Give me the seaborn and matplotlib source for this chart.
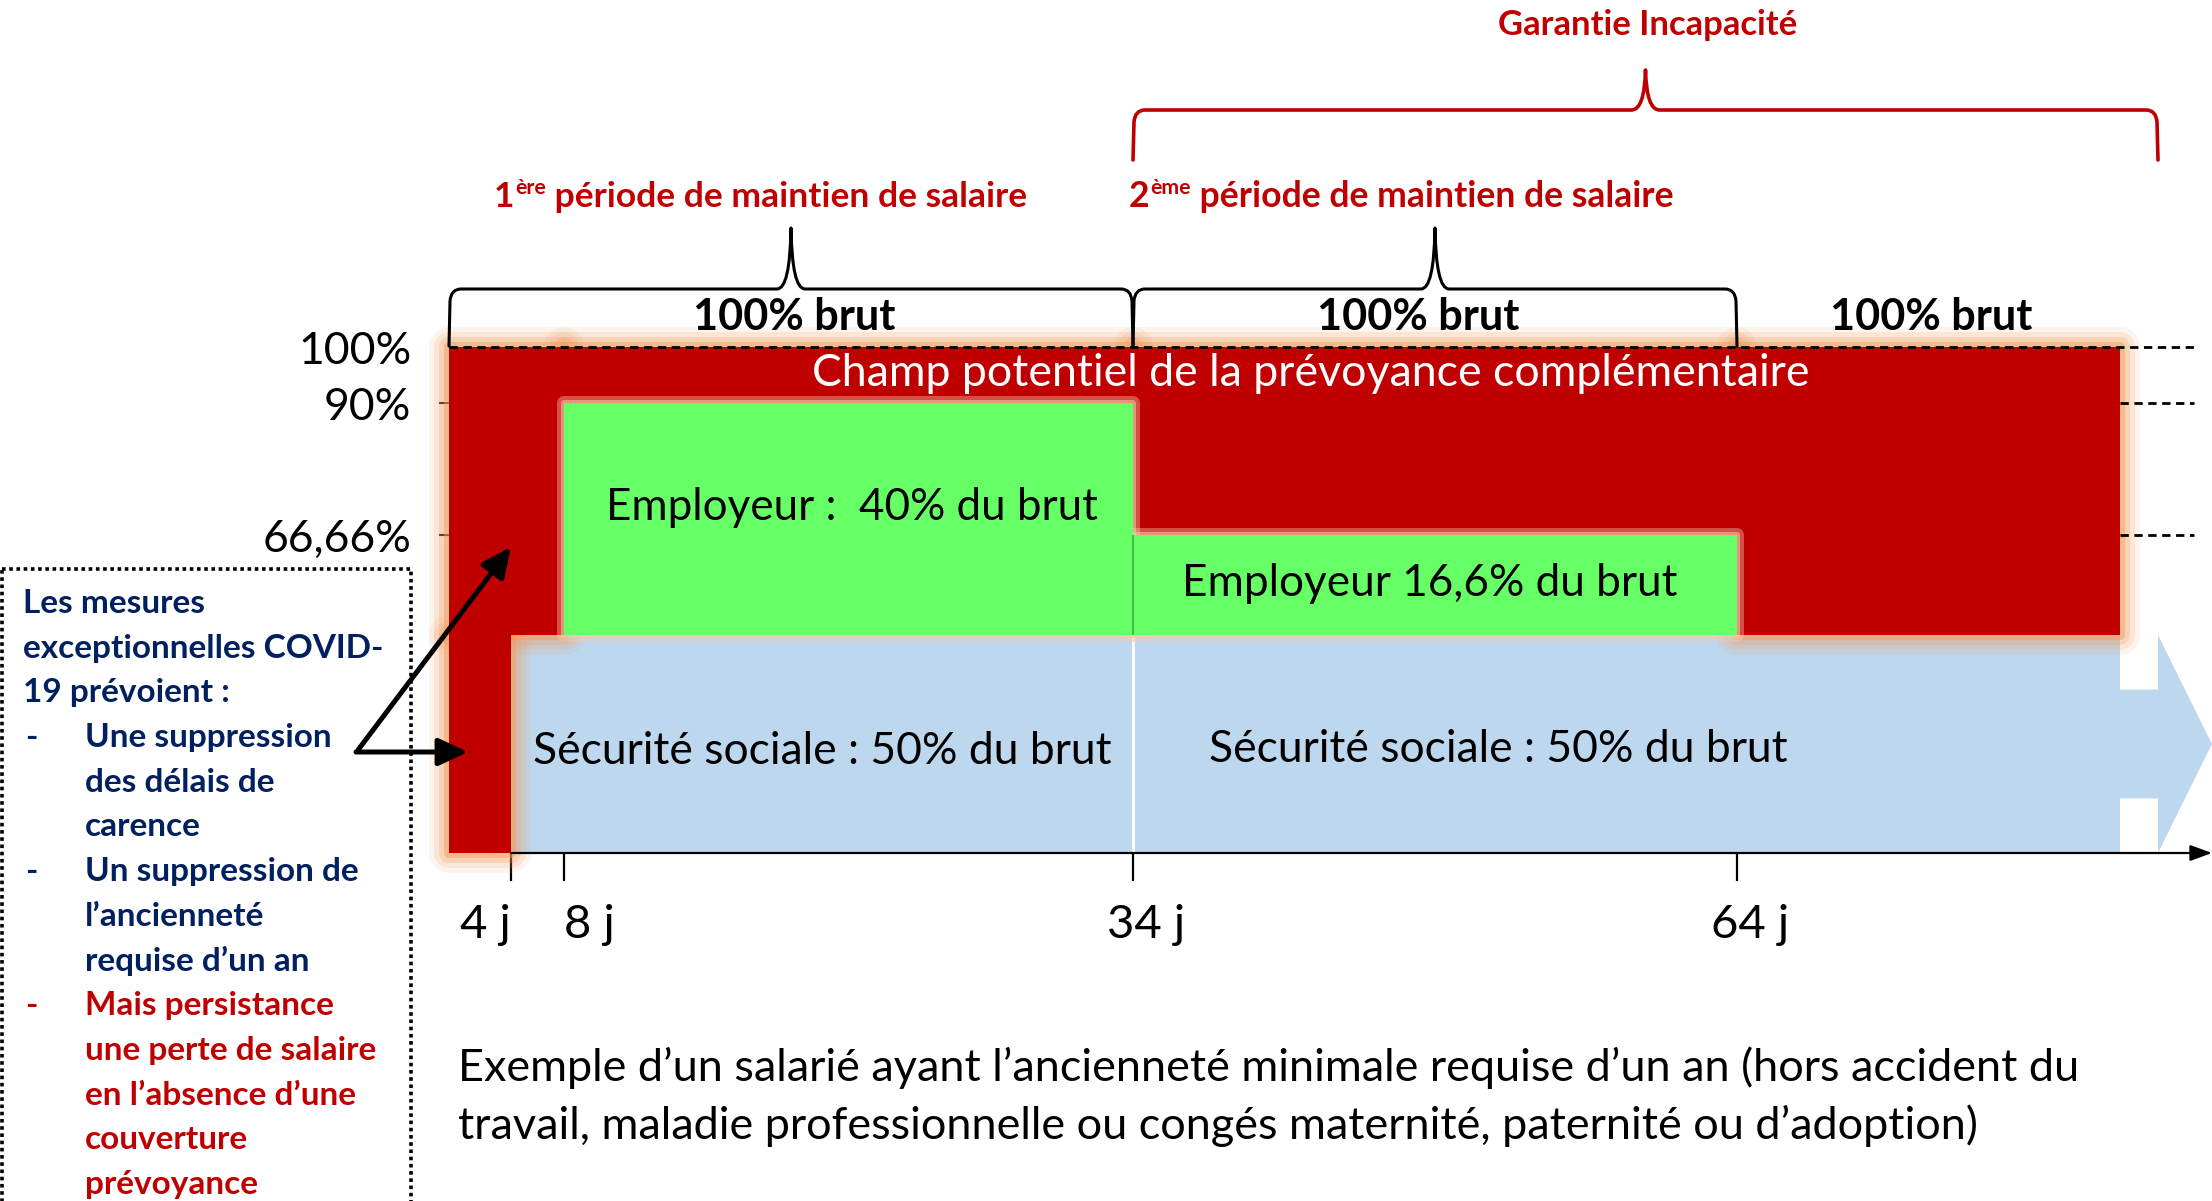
import numpy as np
import matplotlib
matplotlib.use("Agg")
import matplotlib.pyplot as plt
import matplotlib.transforms as mtransforms
from matplotlib.path import Path
from matplotlib.patches import PathPatch, Rectangle, Polygon
import seaborn as sns

# ---------------- données ----------------
jours_ticks = [4, 8, 34, 64]
jours_labels = ["4 j", "8 j", "34 j", "64 j"]
niveaux_ticks = [100, 90, 66.66]
niveaux_labels = ["100%", "90%", "66,66%"]

# Sécurité sociale (indemnités journalières)
secu_debut = [4]
secu_fin = [90]
secu_bas = [0]
secu_haut = [50]

# Employeur (maintien de salaire)
empl_debut = [8, 34]
empl_fin = [34, 64]
empl_bas = [50, 50]
empl_haut = [90, 66.66]

# Champ potentiel de la prévoyance complémentaire
prev_debut = [0, 0, 8, 34, 64]
prev_fin = [4, 8, 34, 64, 90]
prev_bas = [0, 50, 90, 66.66, 50]
prev_haut = [50, 100, 100, 100, 100]

periodes_maintien = [(0, 34), (34, 64)]
garantie_incapacite = (34, 95)
fleche_fin = [95, 100]

# ---------------- style ----------------
sns.set_theme(style="white")
plt.rcParams["font.family"] = ["Lato", "DejaVu Sans"]

ROUGE = "#C00000"
VERT = "#66FF66"
BLEU = "#BDD7EE"
HALO = "#F39A5A"
MARINE = "#002060"

W, H = 2212, 1201
fig = plt.figure(figsize=(W / 100, H / 100), dpi=100, facecolor="white")
ax = fig.add_axes([0, 0, 1, 1])
ax.set_facecolor("white")

# schéma non proportionnel : échelles par morceaux
X_D = [-30, 0, 4, 8, 34, 64, 90, 95, 100]
X_P = [0, 449, 511, 564, 1133, 1737, 2120, 2158, 2212]
Y_V = [-80, 0, 50, 66.66, 90, 100, 160]
Y_P = [0, 348, 566, 666, 798, 854, 1201]


def fx(v):
    return np.interp(v, X_D, X_P)


def ix(p):
    return np.interp(p, X_P, X_D)


def fy(v):
    return np.interp(v, Y_V, Y_P)


def iy(p):
    return np.interp(p, Y_P, Y_V)


ax.set_xscale("function", functions=(fx, ix))
ax.set_yscale("function", functions=(fy, iy))
ax.set_xlim(X_D[0], X_D[-1])
ax.set_ylim(Y_V[0], Y_V[-1])


def blocs(debut, fin, bas, haut, **kw):
    d = np.asarray(debut, float)
    f = np.asarray(fin, float)
    b = np.asarray(bas, float)
    h = np.asarray(haut, float)
    return ax.bar(d, h - b, width=f - d, bottom=b, align="edge", **kw)


# Sécurité sociale + flèche
blocs(secu_debut, secu_fin, secu_bas, secu_haut, color=BLEU, linewidth=0, zorder=1)
m = (secu_bas[0] + secu_haut[0]) / 2
q = (secu_haut[0] - secu_bas[0]) / 4
pts = [(secu_fin[0], m - q), (fleche_fin[0], m - q), (fleche_fin[0], secu_bas[0]),
       (fleche_fin[1], m), (fleche_fin[0], secu_haut[0]), (fleche_fin[0], m + q),
       (secu_fin[0], m + q)]
ax.add_patch(Polygon(pts, closed=True, facecolor=BLEU, edgecolor="none", zorder=1))
ax.vlines(34, secu_bas[0], secu_haut[0], colors="white", linewidth=2, zorder=1.2)

# halo des blocs rouges
for lw, a in [(40, 0.10), (30, 0.16), (20, 0.24), (10, 0.45)]:
    blocs(prev_debut, prev_fin, prev_bas, prev_haut, color="none", edgecolor=HALO,
          linewidth=lw * 0.72, alpha=a, zorder=1.5, joinstyle="round")
blocs(prev_debut, prev_fin, prev_bas, prev_haut, color=ROUGE, linewidth=0, zorder=2)

# employeur
for lw, a in [(14, 0.4), (6, 0.55)]:
    blocs(empl_debut, empl_fin, empl_bas, empl_haut, color="none", edgecolor="#F8CBAD",
          linewidth=lw * 0.72, alpha=a, zorder=2.4, joinstyle="round")
blocs(empl_debut, empl_fin, empl_bas, empl_haut, color=VERT, linewidth=0, zorder=2.6)
ax.vlines(34, empl_bas[1], empl_haut[1], colors="#3CC43C", linewidth=1.5, zorder=2.7)

# lignes pointillées
ax.hlines(100, 0, 98.3, colors="black", linestyles=(0, (3, 2)), linewidth=2, zorder=4)
ax.hlines([90, 66.66], 90, 98.3, colors="black", linestyles=(0, (3, 2)), linewidth=2, zorder=4)

# axe du temps
ax.annotate("", xy=(fleche_fin[1], 0), xytext=(jours_ticks[0], 0),
            arrowprops=dict(arrowstyle="-|>,head_length=0.6,head_width=0.22", color="black",
                            lw=1.6, mutation_scale=22, shrinkA=0, shrinkB=0),
            annotation_clip=False, zorder=4)

for s in ax.spines.values():
    s.set_visible(False)
ax.spines["left"].set_position(("data", 0))
ax.spines["bottom"].set_position(("data", 0))
ax.set_xticks(jours_ticks, jours_labels)
ax.set_yticks(niveaux_ticks, niveaux_labels)
ax.tick_params(axis="x", bottom=True, length=20, width=1.6, color="black", pad=17,
               labelsize=34, labelcolor="black", direction="out")
ax.tick_params(axis="y", left=True, length=7, width=1.5, color="black", pad=20,
               labelsize=32, labelcolor="black", direction="out")
ax.grid(False)
sns.despine(ax=ax, left=True, bottom=True, top=True, right=True)

# ---------------- surcouche en pixels ----------------
ov = fig.add_axes([0, 0, 1, 1])
ov.set_zorder(5)
ov.set_xlim(0, W)
ov.set_ylim(H, 0)
ov.axis("off")
ov.patch.set_alpha(0)

fig.canvas.draw()
R = fig.canvas.get_renderer()

xt = ax.xaxis.get_major_ticks()
xt[0].label1.set_horizontalalignment("right")
xt[1].label1.set_horizontalalignment("left")
decal = mtransforms.ScaledTranslation(0.13, 0, fig.dpi_scale_trans)
for t in xt[2:]:
    t.label1.set_transform(t.label1.get_transform() + decal)
ax.yaxis.get_major_ticks()[0].tick1line.set_visible(False)


def ajuste(textes, largeur):
    bb = textes[0].get_window_extent(renderer=R)
    f = largeur / bb.width
    for t in textes:
        t.set_fontsize(t.get_fontsize() * f)


def accolade(x0, x1, xt_, yb, yh, yt, color, lw):
    r = 12
    v = [(x0, yb), (x0 + 1, yh + r), (x0 + 2, yh), (x0 + r, yh),
         (xt_ - 14, yh), (xt_ - 1, yh), (xt_, yt),
         (xt_ + 1, yh), (xt_ + 14, yh),
         (x1 - r, yh), (x1 - 2, yh), (x1 - 1, yh + r), (x1, yb)]
    c = [Path.MOVETO, Path.LINETO, Path.CURVE3, Path.CURVE3,
         Path.LINETO, Path.CURVE3, Path.CURVE3,
         Path.CURVE3, Path.CURVE3,
         Path.LINETO, Path.CURVE3, Path.CURVE3, Path.LINETO]
    ov.add_patch(PathPatch(Path(v, c), facecolor="none", edgecolor=color, lw=lw,
                           capstyle="round", joinstyle="round"))


for (a, b) in periodes_maintien:
    x0, x1 = float(fx(a)), float(fx(b))
    accolade(x0, x1, (x0 + x1) / 2, 346, 289, 228, "black", 2.2)
ga, gb = garantie_incapacite
accolade(float(fx(ga)), float(fx(gb)), (float(fx(ga)) + float(fx(gb))) / 2, 160, 110, 70, ROUGE, 2.6)

# titres
tg = ov.text(1648, 35, "Garantie Incapacité", color=ROUGE, fontweight="bold", fontsize=22,
             ha="center", va="baseline")
ajuste([tg], 299)


def titre_ordinal(x0, yb, num, sup, reste, largeur, s=22):
    objs = []

    def construit(size):
        for o in objs:
            o.remove()
        objs.clear()
        kw = dict(color=ROUGE, fontweight="bold", va="baseline", ha="left")
        t1 = ov.text(x0, yb, num, fontsize=size, **kw)
        w1 = t1.get_window_extent(renderer=R).width
        t2 = ov.text(x0 + w1 + 1, yb - 0.36 * size * 100 / 72, sup, fontsize=0.6 * size, **kw)
        w2 = t2.get_window_extent(renderer=R).width
        t3 = ov.text(x0 + w1 + w2 + 1, yb, reste, fontsize=size, **kw)
        w3 = t3.get_window_extent(renderer=R).width
        objs.extend([t1, t2, t3])
        return w1 + w2 + w3

    tot = construit(s)
    construit(s * largeur / tot)


titre_ordinal(494, 207, "1", "ère", " période de maintien de salaire", 532)
titre_ordinal(1129, 207, "2", "ème", " période de maintien de salaire", 543)

brut = [ov.text(x, 317, "100% brut", fontweight="bold", color="black", fontsize=30,
                ha="center", va="center") for x in (794, 1418, 1931)]
ajuste(brut, 202)

tc = ov.text(1311, 374, "Champ potentiel de la prévoyance complémentaire", color="white",
             fontsize=30, ha="center", va="center")
ajuste([tc], 996)

te1 = ov.text(852, 508, "Employeur :  40% du brut", color="black", fontsize=30,
              ha="center", va="center")
ajuste([te1], 491)
te2 = ov.text(1430, 583, "Employeur 16,6% du brut", color="black", fontsize=30,
              ha="center", va="center")
ajuste([te2], 495)
ts = [ov.text(822, 752, "Sécurité sociale : 50% du brut", color="black", fontsize=30,
              ha="center", va="center"),
      ov.text(1498, 750, "Sécurité sociale : 50% du brut", color="black", fontsize=30,
              ha="center", va="center")]
ajuste(ts, 577)

tx = [ov.text(458, 1068, "Exemple d’un salarié ayant l’ancienneté minimale requise d’un an (hors accident du",
              color="black", fontsize=30, ha="left", va="center"),
      ov.text(458, 1126, "travail, maladie professionnelle ou congés maternité, paternité ou d’adoption)",
              color="black", fontsize=30, ha="left", va="center")]
ajuste(tx, 1620)

# encadré COVID-19
ov.add_patch(Rectangle((2, 569), 409, 700, facecolor="none", edgecolor="black",
                       lw=2.6, linestyle=(0, (1, 1))))
lignes = [
    (None, "Les mesures", MARINE, 0),
    (None, "exceptionnelles COVID-", MARINE, 0),
    (None, "19 prévoient :", MARINE, 0),
    ("-", "Une suppression", MARINE, 1),
    (None, "des délais de", MARINE, 1),
    (None, "carence", MARINE, 1),
    ("-", "Un suppression de", MARINE, 1),
    (None, "l’ancienneté", MARINE, 1),
    (None, "requise d’un an", MARINE, 1),
    ("-", "Mais persistance", ROUGE, 1),
    (None, "une perte de salaire", ROUGE, 1),
    (None, "en l’absence d’une", ROUGE, 1),
    (None, "couverture", ROUGE, 1),
    (None, "prévoyance", ROUGE, 1),
]
box_txt = []
for i, (puce, txt, col, ind) in enumerate(lignes):
    y = 613 + i * 44.7
    if puce:
        box_txt.append(ov.text(25, y, puce, color=col, fontsize=22, fontweight="bold",
                               ha="left", va="baseline"))
    box_txt.append(ov.text(85 if ind else 23, y, txt, color=col, fontsize=22,
                           fontweight="bold", ha="left", va="baseline"))
ref = [t for t in box_txt if t.get_text() == "exceptionnelles COVID-"]
others = [t for t in box_txt if t.get_text() != "exceptionnelles COVID-"]
ajuste(ref + others, 360)

# flèches explicatives
ap = dict(arrowstyle="-|>,head_length=0.6,head_width=0.28", color="black", lw=3.6,
          mutation_scale=30, shrinkA=0, shrinkB=0)
ov.annotate("", xy=(511, 547), xytext=(358, 750), arrowprops=ap)
ov.annotate("", xy=(468, 752), xytext=(356, 752), arrowprops=ap)

fig.savefig("out.png", dpi=100, facecolor="white")
